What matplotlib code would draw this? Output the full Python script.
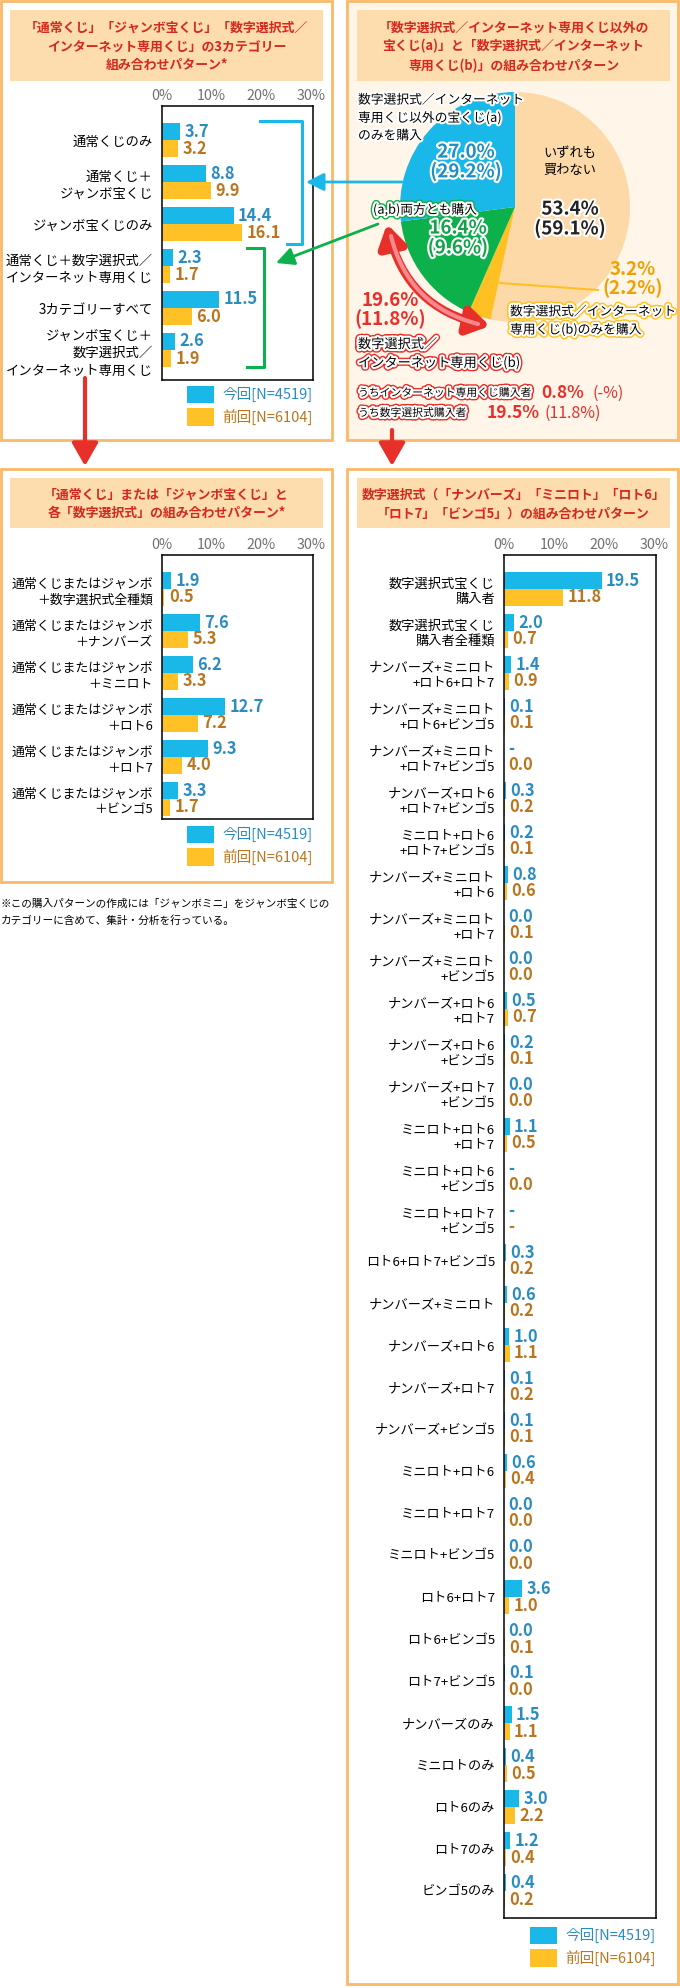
'''
Lottery purchase combination patterns: three bar panels and a pie panel
'''
import numpy as np
import matplotlib
matplotlib.use('Agg')
from matplotlib import pyplot as plt
from matplotlib import patheffects as pe
from matplotlib.patches import Rectangle, FancyArrowPatch

plt.rcParams['font.family'] = ['Noto Sans CJK JP', 'DejaVu Sans']

# ---------------- data ----------------
cat3_labels = ['通常くじのみ', '通常くじ＋\nジャンボ宝くじ', 'ジャンボ宝くじのみ',
               '通常くじ＋数字選択式／\nインターネット専用くじ', '3カテゴリーすべて',
               'ジャンボ宝くじ＋\n数字選択式／\nインターネット専用くじ']
cat3_now = [3.7, 8.8, 14.4, 2.3, 11.5, 2.6]
cat3_prev = [3.2, 9.9, 16.1, 1.7, 6.0, 1.9]

each_labels = ['通常くじまたはジャンボ\n＋数字選択式全種類', '通常くじまたはジャンボ\n＋ナンバーズ',
               '通常くじまたはジャンボ\n＋ミニロト', '通常くじまたはジャンボ\n＋ロト6',
               '通常くじまたはジャンボ\n＋ロト7', '通常くじまたはジャンボ\n＋ビンゴ5']
each_now = [1.9, 7.6, 6.2, 12.7, 9.3, 3.3]
each_prev = [0.5, 5.3, 3.3, 7.2, 4.0, 1.7]

num_labels = ['数字選択式宝くじ\n購入者', '数字選択式宝くじ\n購入者全種類',
              'ナンバーズ+ミニロト\n+ロト6+ロト7', 'ナンバーズ+ミニロト\n+ロト6+ビンゴ5',
              'ナンバーズ+ミニロト\n+ロト7+ビンゴ5', 'ナンバーズ+ロト6\n+ロト7+ビンゴ5',
              'ミニロト+ロト6\n+ロト7+ビンゴ5', 'ナンバーズ+ミニロト\n+ロト6',
              'ナンバーズ+ミニロト\n+ロト7', 'ナンバーズ+ミニロト\n+ビンゴ5',
              'ナンバーズ+ロト6\n+ロト7', 'ナンバーズ+ロト6\n+ビンゴ5',
              'ナンバーズ+ロト7\n+ビンゴ5', 'ミニロト+ロト6\n+ロト7',
              'ミニロト+ロト6\n+ビンゴ5', 'ミニロト+ロト7\n+ビンゴ5',
              'ロト6+ロト7+ビンゴ5', 'ナンバーズ+ミニロト', 'ナンバーズ+ロト6',
              'ナンバーズ+ロト7', 'ナンバーズ+ビンゴ5', 'ミニロト+ロト6', 'ミニロト+ロト7',
              'ミニロト+ビンゴ5', 'ロト6+ロト7', 'ロト6+ビンゴ5', 'ロト7+ビンゴ5',
              'ナンバーズのみ', 'ミニロトのみ', 'ロト6のみ', 'ロト7のみ', 'ビンゴ5のみ']
num_now = [19.5, 2.0, 1.4, 0.1, None, 0.3, 0.2, 0.8, 0.0, 0.0, 0.5, 0.2, 0.0, 1.1, None, None,
           0.3, 0.6, 1.0, 0.1, 0.1, 0.6, 0.0, 0.0, 3.6, 0.0, 0.1, 1.5, 0.4, 3.0, 1.2, 0.4]
num_prev = [11.8, 0.7, 0.9, 0.1, 0.0, 0.2, 0.1, 0.6, 0.1, 0.0, 0.7, 0.1, 0.0, 0.5, 0.0, None,
            0.2, 0.2, 1.1, 0.2, 0.1, 0.4, 0.0, 0.0, 1.0, 0.1, 0.0, 1.1, 0.5, 2.2, 0.4, 0.2]

pie_names = ['いずれも買わない', '(b)のみ', '(a,b)両方', '(a)のみ']
pie_now = [53.4, 3.2, 16.4, 27.0]
pie_prev = [59.1, 2.2, 9.6, 29.2]
b_total = (19.6, 11.8)
b_internet = (0.8, None)
b_numbers = (19.5, 11.8)

legend_now = '今回[N=4519]'
legend_prev = '前回[N=6104]'

# ---------------- styles ----------------
BLUE = '#1ab8e8'
ORANGE = '#ffc125'
BLUE_TXT = '#2b8cc0'
ORANGE_TXT = '#b9761f'
BORDER = '#fbb968'
TITLE_BG = '#fddcae'
TITLE_TXT = '#d42a1e'
RED = '#e8302a'
GREEN = '#0db14b'
BEIGE = '#fdd9a8'
YELLOW = '#ffc023'

W, H = 680, 1988
fig = plt.figure(figsize=(W / 100, H / 100), dpi=100)


def px_axes(x0, y0, x1, y1, **kw):
    return fig.add_axes([x0 / W, 1 - y1 / H, (x1 - x0) / W, (y1 - y0) / H], **kw)


bg = px_axes(0, 0, W, H, zorder=0)
bg.set_xlim(0, W)
bg.set_ylim(H, 0)
bg.axis('off')
fg = px_axes(0, 0, W, H, zorder=10)
fg.set_xlim(0, W)
fg.set_ylim(H, 0)
fg.axis('off')
fg.patch.set_alpha(0)

# panels
for (x0, y0, x1, y1, fc) in [(1, 1, 332, 440, 'white'), (1, 469, 332, 882, 'white'),
                             (347, 1, 678, 440, '#fff5e8'), (347, 469, 678, 1984, 'white')]:
    bg.add_patch(Rectangle((x0, y0), x1 - x0, y1 - y0, facecolor=fc, edgecolor=BORDER, lw=2))

titles = [((10, 10, 323, 81), '「通常くじ」「ジャンボ宝くじ」「数字選択式／\nインターネット専用くじ」の3カテゴリー\n組み合わせパターン*'),
          ((357, 10, 670, 81), '「数字選択式／インターネット専用くじ以外の\n宝くじ(a)」と「数字選択式／インターネット\n専用くじ(b)」の組み合わせパターン'),
          ((10, 478, 323, 528), '「通常くじ」または「ジャンボ宝くじ」と\n各「数字選択式」の組み合わせパターン*'),
          ((357, 478, 670, 528), '数字選択式（「ナンバーズ」「ミニロト」「ロト6」\n「ロト7」「ビンゴ5」）の組み合わせパターン')]
for (x0, y0, x1, y1), t in titles:
    bg.add_patch(Rectangle((x0, y0), x1 - x0, y1 - y0, facecolor=TITLE_BG, edgecolor='none'))
    bg.text((x0 + x1) / 2, (y0 + y1) / 2 + 1, t, ha='center', va='center', fontsize=9.3,
            fontweight='bold', color=TITLE_TXT, linespacing=1.42)


def bar_panel(box, labels, now, prev, label_size=10, spacing=1.3):
    x0, y0, x1, y1 = box
    ax = px_axes(x0, y0, x1, y1, zorder=5)
    n = len(labels)
    y = np.arange(n)
    h = 17 / 42
    nv = np.array([np.nan if v is None else v for v in now])
    pv = np.array([np.nan if v is None else v for v in prev])
    ax.barh(y - h / 2, np.nan_to_num(nv), height=h, color=BLUE)
    ax.barh(y + h / 2, np.nan_to_num(pv), height=h, color=ORANGE)
    for vals, off, col in [(now, -h / 2, BLUE_TXT), (prev, h / 2, ORANGE_TXT)]:
        for i, v in enumerate(vals):
            txt = '-' if v is None else f'{v:.1f}'
            ax.annotate(txt, (0 if v is None else v, i + off), xytext=(3.2, 0),
                        textcoords='offset points', va='center', ha='left',
                        fontsize=11.8, fontweight='bold', color=col)
    ax.set_xlim(0, 30.4)
    # group 0 centre sits 34 px below the box top, groups are 42 px apart
    ax.set_ylim(n - 1 + (y1 - y0 - 34 - 42 * (n - 1)) / 42, -34 / 42)
    ax.xaxis.tick_top()
    ax.set_xticks([0, 10, 20, 30])
    ax.set_xticklabels(['0%', '10%', '20%', '30%'], color='#707070', fontsize=10.3)
    ax.tick_params(axis='x', length=0, pad=2)
    ax.set_xticks([10, 20], minor=True)
    ax.tick_params(axis='x', which='minor', direction='in', length=4, width=1, top=True, bottom=False)
    ax.set_yticks(y)
    ax.set_yticklabels(labels, fontsize=label_size, linespacing=spacing)
    ax.tick_params(axis='y', length=0, pad=6.5)
    for s in ax.spines.values():
        s.set_linewidth(1.1)
    return ax


bar_panel((162, 106, 313, 380), cat3_labels, cat3_now, cat3_prev, label_size=9.6)
bar_panel((162, 555, 313, 819), each_labels, each_now, each_prev, label_size=9.3)
bar_panel((504, 555, 656, 1918), num_labels, num_now, num_prev, label_size=9.5, spacing=1.25)

# legends
for lx, ly in [(187, 386), (187, 826), (530, 1927)]:
    bg.add_patch(Rectangle((lx, ly), 27, 17, facecolor=BLUE, edgecolor='none'))
    bg.add_patch(Rectangle((lx, ly + 22), 27, 18, facecolor=ORANGE, edgecolor='none'))
    bg.text(lx + 35, ly + 8.5, legend_now, va='center', fontsize=10.5, color=BLUE_TXT)
    bg.text(lx + 35, ly + 31, legend_prev, va='center', fontsize=10.5, color=ORANGE_TXT)

# footnote
bg.text(1, 912, '※この購入パターンの作成には「ジャンボミニ」をジャンボ宝くじの\nカテゴリーに含めて、集計・分析を行っている。',
        va='center', ha='left', fontsize=7.7, linespacing=1.7)

# brackets
fg.plot([260, 302, 302, 287], [121, 121, 244, 244], color=BLUE, lw=2.2)
fg.plot([247, 264, 264, 247], [248, 248, 367, 367], color=GREEN, lw=2.2)

# connector arrows
fg.annotate('', xy=(306, 182), xytext=(402, 182),
            arrowprops=dict(arrowstyle='-|>,head_length=0.9,head_width=0.45', color=BLUE,
                            lw=2, mutation_scale=12, shrinkA=0, shrinkB=0))
fg.annotate('', xy=(276, 263), xytext=(378, 224),
            arrowprops=dict(arrowstyle='-|>,head_length=0.9,head_width=0.45', color=GREEN,
                            lw=2, mutation_scale=12, shrinkA=0, shrinkB=0))
for ax_x, ys, ye in [(85, 378, 466), (392, 430, 466)]:
    fg.annotate('', xy=(ax_x, ye), xytext=(ax_x, ys),
                arrowprops=dict(arrowstyle='-|>,head_length=0.7,head_width=0.4', color=RED,
                                lw=3, mutation_scale=20, shrinkA=0, shrinkB=0))

# pie
pax = px_axes(400, 92, 630, 322, zorder=4)
pax.pie(pie_now, colors=[BEIGE, YELLOW, GREEN, BLUE], startangle=90, counterclock=False,
        radius=1, wedgeprops=dict(linewidth=0))
pax.set_xlim(-1, 1)
pax.set_ylim(-1, 1)
pax.set_aspect('equal')
pax.axis('off')

white = [pe.withStroke(linewidth=3, foreground='white')]


def ring(col):
    return [pe.Stroke(linewidth=5, foreground=col), pe.Stroke(linewidth=3, foreground='white'), pe.Normal()]


fg.text(358, 118, '数字選択式／インターネット\n専用くじ以外の宝くじ(a)\nのみを購入', va='center', ha='left',
        fontsize=9.2, linespacing=1.45, path_effects=white)
fg.text(466, 162, f'{pie_now[3]:.1f}%\n({pie_prev[3]:.1f}%)', ha='center', va='center',
        fontsize=13.5, fontweight='bold', color='#1e8fc6', linespacing=1.0, path_effects=white)
fg.text(543, 162, 'いずれも\n買わない', ha='left', va='center', fontsize=9.5, linespacing=1.45)
fg.text(570, 219, f'{pie_now[0]:.1f}%\n({pie_prev[0]:.1f}%)', ha='center', va='center',
        fontsize=13.5, fontweight='bold', color='#222222', linespacing=1.0, path_effects=white)
fg.text(373, 210, '(a,b)両方とも購入', ha='left', va='center', fontsize=9.2, path_effects=ring(GREEN))
fg.text(458, 238, f'{pie_now[2]:.1f}%\n({pie_prev[2]:.1f}%)', ha='center', va='center',
        fontsize=13.5, fontweight='bold', color='#12a24a', linespacing=1.0, path_effects=white)
fg.plot([500, 598], [283, 290], color=YELLOW, lw=1.5)
fg.text(633, 279, f'{pie_now[1]:.1f}%\n({pie_prev[1]:.1f}%)', ha='center', va='center',
        fontsize=13.5, fontweight='bold', color='#f0a000', linespacing=1.0)
fg.text(510, 321, '数字選択式／インターネット\n専用くじ(b)のみを購入', ha='left', va='center',
        fontsize=9.2, linespacing=1.45, path_effects=ring(YELLOW))
fg.text(390, 310, f'{b_total[0]:.1f}%\n({b_total[1]:.1f}%)', ha='center', va='center',
        fontsize=13.5, fontweight='bold', color=RED, linespacing=1.0)
fg.text(358, 354, '数字選択式／\nインターネット専用くじ(b)', ha='left', va='center',
        fontsize=9.5, linespacing=1.5, path_effects=ring(RED))
fg.text(358, 393, 'うちインターネット専用くじ購入者', ha='left', va='center', fontsize=7.8,
        path_effects=ring(RED))
fg.text(541, 393, f'{b_internet[0]:.1f}%', ha='left', va='center', fontsize=12.5,
        fontweight='bold', color=RED)
fg.text(592, 393, '(-%)', ha='left', va='center', fontsize=11.5, color=RED)
fg.text(358, 413, 'うち数字選択式購入者', ha='left', va='center', fontsize=7.8, path_effects=ring(RED))
fg.text(487, 413, f'{b_numbers[0]:.1f}%', ha='left', va='center', fontsize=12.5,
        fontweight='bold', color=RED)
fg.text(544, 413, f'({b_numbers[1]:.1f}%)', ha='left', va='center', fontsize=11.5, color=RED)

# curved red double arrow around (b) slices
fg.add_patch(FancyArrowPatch((387, 224), (490, 326), arrowstyle='<|-|>,head_length=0.8,head_width=0.5',
                             mutation_scale=16, color=RED, lw=6, connectionstyle='arc3,rad=0.32',
                             shrinkA=0, shrinkB=0))
fg.add_patch(FancyArrowPatch((391, 236), (478, 324), arrowstyle='-', color='#f6898e', lw=3,
                             connectionstyle='arc3,rad=0.3', shrinkA=0, shrinkB=0))

fig.savefig('out.png', dpi=100)
